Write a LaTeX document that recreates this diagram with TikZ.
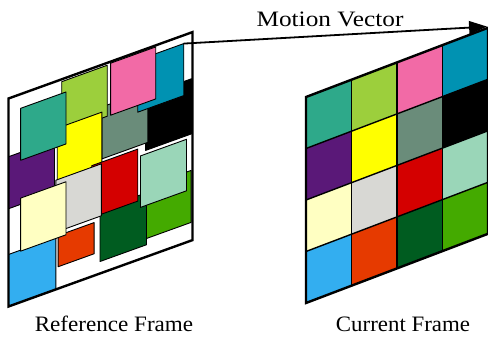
\documentclass[tikz,border=0pt]{standalone}
\usepackage{fontspec}
\setmainfont{Liberation Serif}
\usetikzlibrary{arrows.meta}
\definecolor{cteal}{HTML}{2EA98A}
\definecolor{clgreen}{HTML}{9CCF3C}
\definecolor{cpink}{HTML}{F26AA6}
\definecolor{cblue}{HTML}{0092B2}
\definecolor{cblack}{HTML}{000000}
\definecolor{cgraygreen}{HTML}{6A8C7A}
\definecolor{cyellow}{HTML}{FFFF00}
\definecolor{cpurple}{HTML}{5A1878}
\definecolor{cgray}{HTML}{D8D8D4}
\definecolor{cred}{HTML}{D40000}
\definecolor{cmint}{HTML}{9AD6B8}
\definecolor{ccream}{HTML}{FFFFC2}
\definecolor{corange}{HTML}{E63A00}
\definecolor{cdkgreen}{HTML}{005C20}
\definecolor{cgreen}{HTML}{44AA00}
\definecolor{csky}{HTML}{33AEF0}
% block: colour, u, v, width, height (frame units)
\newcommand\blk[5]{\filldraw[blockline,fill=#1] (#2,#3) -- ({#2+#4},#3) -- ({#2+#4},{#3+#5}) -- (#2,{#3+#5}) -- cycle;}
\newcommand\gcell[3]{\fill[#1] (#2,#3) -- ({#2+1},#3) -- ({#2+1},{#3+1}) -- (#2,{#3+1}) -- cycle;}
\begin{document}
\begin{tikzpicture}[x=1pt,y=1pt,
  blockline/.style={draw=black,line width=0.9pt,line join=round},
  gridline/.style={draw=black,line width=1.4pt},
  framebox/.style={draw=black,line width=2.4pt,line join=miter},
  mvarrow/.style={draw=black,line width=1.8pt,-{Triangle[length=18pt,width=13pt]}},
  lbl/.style={font=\fontsize{22}{26}\selectfont,anchor=base,inner sep=0pt}]
\useasboundingbox (0,0) rectangle (488,338);
\clip (0,0) rectangle (488,338);
% ---------- Reference frame ----------
\begin{scope}[shift={(8.5,239.5)},x={(46pt,16.6pt)},y={(0pt,-52pt)}]
  \fill[white] (0,0) -- (4,0) -- (4,4) -- (0,4) -- cycle;
  \blk{cblack}{2.98}{0.89}{1.0}{1.06}
  \blk{cgraygreen}{2.03}{0.81}{1.0}{1.0}
  \blk{cblue}{2.81}{0.16}{1.0}{1.0}
  \blk{cpink}{2.22}{0.03}{0.98}{1.0}
  \blk{clgreen}{1.157}{0.046}{0.99}{0.98}
  \blk{cyellow}{1.06}{0.91}{0.97}{1.0}
  \blk{cpurple}{0}{1.12}{1.0}{1.0}
  \blk{cteal}{0.265}{0.273}{0.985}{1.0}
  \blk{cgreen}{2.97}{2.65}{1.0}{1.0}
  \blk{cdkgreen}{1.99}{2.77}{1.01}{1.0}
  \blk{cred}{1.81}{1.87}{1.0}{1.0}
  \blk{corange}{1.08}{2.98}{0.78}{0.6}
  \blk{cgray}{1.03}{1.90}{0.99}{1.0}
  \blk{cmint}{2.87}{2.02}{1.0}{0.99}
  \blk{csky}{0}{3.0}{1.03}{1.0}
  \blk{ccream}{0.265}{2.0}{0.985}{1.02}
  \draw[framebox] (0,0) -- (4,0) -- (4,4) -- (0,4) -- cycle;
  \coordinate (mvstart) at (3.81,0.16);
\end{scope}
% ---------- Current frame ----------
\begin{scope}[shift={(306,241)},x={(45.5pt,17.3pt)},y={(0pt,-51.5pt)}]
  \gcell{cteal}{0}{0}\gcell{clgreen}{1}{0}\gcell{cpink}{2}{0}\gcell{cblue}{3}{0}
  \gcell{cpurple}{0}{1}\gcell{cyellow}{1}{1}\gcell{cgraygreen}{2}{1}\gcell{cblack}{3}{1}
  \gcell{ccream}{0}{2}\gcell{cgray}{1}{2}\gcell{cred}{2}{2}\gcell{cmint}{3}{2}
  \gcell{csky}{0}{3}\gcell{corange}{1}{3}\gcell{cdkgreen}{2}{3}\gcell{cgreen}{3}{3}
  \foreach \k in {1,2,3} {
    \draw[gridline] (\k,0) -- (\k,4);
    \draw[gridline] (0,\k) -- (4,\k);
  }
  \draw[framebox] (0,0) -- (4,0) -- (4,4) -- (0,4) -- cycle;
  \coordinate (mvend) at (3.98,-0.03);
\end{scope}
% ---------- Motion vector ----------
\draw[mvarrow] (mvstart) -- (mvend);
\node[lbl] (mvlabel) at (330,311) {\scalebox{1.15}[1]{Motion Vector}};
\node[lbl] (reflabel) at (114,7) {\scalebox{1.05}[1]{Reference Frame}};
\node[lbl] (curlabel) at (403,7) {\scalebox{1.04}[1]{Current Frame}};
\end{tikzpicture}
\end{document}
